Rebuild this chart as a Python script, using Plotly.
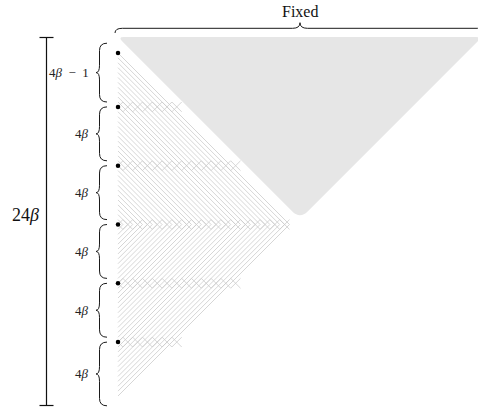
import plotly.graph_objects as go

# ---------------- data ----------------
beta = 3
block_sizes = [4 * beta - 1, 4 * beta, 4 * beta, 4 * beta, 4 * beta, 4 * beta]
block_labels = ["4<i>β</i>\u2002\u2212\u20021", "4<i>β</i>", "4<i>β</i>", "4<i>β</i>", "4<i>β</i>", "4<i>β</i>"]
brace_top_rows = [-2, 11, 23, 35, 47, 59]
brace_bottom_rows = [10, 22, 34, 46, 58, 72]
total_label = "24<i>β</i>"
top_label = "Fixed"

# dot rows from cumulative block sizes
dot_rows = [0]
for s in block_sizes[:-1]:
    dot_rows.append(dot_rows[-1] + s)
apex = dot_rows[3]          # 35
bottom = 2 * apex           # 70

# ---------------- geometry (1 unit = 4.9 px) ----------------
U = 4.9
X0, Y0 = 118.0, 53.0
W, H = 478, 408
def ux(px): return (px - X0) / U
def uy(py): return (py - Y0) / U

HATCH = "#cccccc"
fig = go.Figure()

# gray "fixed" triangle with rounded corners
A = (ux(118), uy(37))
B = (ux(482), uy(37))
C = ((A[0] + B[0]) / 2, uy(37) + (B[0] - A[0]) / 2)
def rounded_path(pts, radii):
    n = len(pts)
    segs = []
    for i in range(n):
        V = pts[i]; P = pts[i - 1]; N = pts[(i + 1) % n]; r = radii[i]
        def toward(a, b):
            dx, dy = b[0] - a[0], b[1] - a[1]
            d = (dx * dx + dy * dy) ** 0.5
            return (a[0] + r * dx / d, a[1] + r * dy / d)
        s = toward(V, P); e = toward(V, N)
        segs.append((s, V, e))
    path = f"M {segs[0][0][0]},{segs[0][0][1]} Q {segs[0][1][0]},{segs[0][1][1]} {segs[0][2][0]},{segs[0][2][1]}"
    for s, V, e in segs[1:]:
        path += f" L {s[0]},{s[1]} Q {V[0]},{V[1]} {e[0]},{e[1]}"
    return path + " Z"
fig.add_shape(type="path", path=rounded_path([A, B, C], [1.2, 1.2, 2.2]),
              xref="x", yref="y", fillcolor="#e6e6e6", line=dict(width=0), layer="below")

# chevron hatch lines
hx, hy = [], []
for k in range(0, apex):
    hx += [0, apex - k, 0, None]
    hy += [k, apex, bottom - k, None]
fig.add_trace(go.Scatter(x=hx, y=hy, mode="lines", line=dict(color=HATCH, width=0.8),
                         hoverinfo="skip", showlegend=False))

# crosshatch bands at dot rows
bx, by = [], []
for r in dot_rows[1:]:
    L = r if r <= apex else bottom - r
    ext = 0 if r == apex else 2
    c = 0
    while c <= L - 1 + ext:
        xs = max(c - 1, 0)
        d = c - xs
        bx += [xs, c + 1, None]; by += [r - d, r + 1, None]
        bx += [xs, c + 1, None]; by += [r + d, r - 1, None]
        c += 2
fig.add_trace(go.Scatter(x=bx, y=by, mode="lines", line=dict(color=HATCH, width=0.8),
                         hoverinfo="skip", showlegend=False))

# dots
fig.add_trace(go.Scatter(x=[0] * len(dot_rows), y=dot_rows, mode="markers",
                         marker=dict(color="black", size=4.5), hoverinfo="skip", showlegend=False))

# left braces
xe, xb, xt = ux(107), ux(99.5), ux(96)
cb = 1.5
def vbrace(y1, y2):
    ym = (y1 + y2) / 2
    return (f"M {xe},{y1} Q {xb},{y1} {xb},{y1 + cb} L {xb},{ym - cb} "
            f"Q {xb},{ym} {xt},{ym} Q {xb},{ym} {xb},{ym + cb} "
            f"L {xb},{y2 - cb} Q {xb},{y2} {xe},{y2}")
for t, b, lab in zip(brace_top_rows, brace_bottom_rows, block_labels):
    fig.add_shape(type="path", path=vbrace(t, b), xref="x", yref="y",
                  line=dict(color="#1a1a1a", width=1))
    fig.add_annotation(x=ux(91), y=(t + b) / 2, text=lab, showarrow=False,
                       xanchor="right", yanchor="middle",
                       font=dict(family="Liberation Serif", size=13, color="#222"))

# top "Fixed" brace
ye, yb, yt = uy(33), uy(28.3), uy(22.7)
x1, x2 = ux(115), ux(485)
xm = ux(300)
top_path = (f"M {x1},{ye} Q {x1},{yb} {x1 + cb},{yb} L {xm - cb},{yb} "
            f"Q {xm},{yb} {xm},{yt} Q {xm},{yb} {xm + cb},{yb} "
            f"L {x2 - cb},{yb} Q {x2},{yb} {x2},{ye}")
fig.add_shape(type="path", path=top_path, xref="x", yref="y",
              line=dict(color="#1a1a1a", width=1))
fig.add_annotation(x=xm, y=uy(11), text=top_label, showarrow=False,
                   font=dict(family="Liberation Serif", size=16, color="#111"))

# total height bar
bxp = ux(46.5)
yt0, yb0 = uy(37.5), uy(405.5)
cap = 7 / U
fig.add_trace(go.Scatter(x=[bxp, bxp, None, bxp - cap, bxp + cap, None, bxp - cap, bxp + cap],
                         y=[yt0, yb0, None, yt0, yt0, None, yb0, yb0],
                         mode="lines", line=dict(color="#111", width=1.2),
                         hoverinfo="skip", showlegend=False))
fig.add_annotation(x=ux(25), y=uy(215), text=total_label, showarrow=False,
                   font=dict(family="Liberation Serif", size=18, color="#111"))

fig.update_layout(width=W, height=H, margin=dict(l=0, r=0, t=0, b=0),
                  paper_bgcolor="white", plot_bgcolor="white", showlegend=False)
fig.update_xaxes(range=[ux(0), ux(W)], visible=False, fixedrange=True)
fig.update_yaxes(range=[uy(H), uy(0)], visible=False, fixedrange=True)
fig.write_html("out.html", config={"displayModeBar": False},
               post_script="document.body.style.margin='0';document.body.style.overflow='hidden';")
